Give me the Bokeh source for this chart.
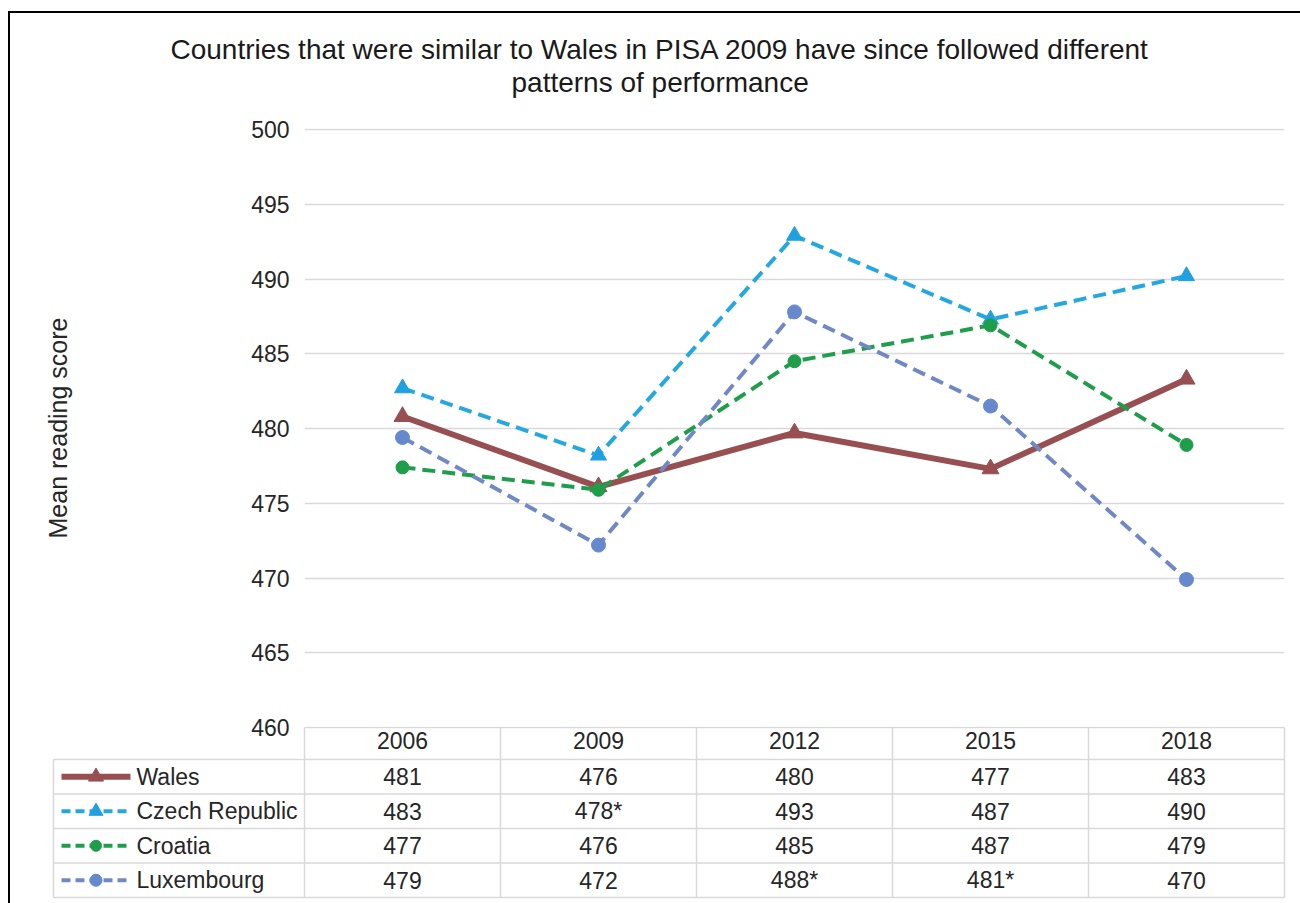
from bokeh.plotting import figure
from bokeh.models import Range1d, FixedTicker, Title
from bokeh.layouts import column
from bokeh.embed import file_html
from bokeh.resources import INLINE
from bokeh.core.properties import value

# ---------------- data ----------------
title_lines = ["Countries that were similar to Wales in PISA 2009 have since followed different",
               "patterns of performance"]
y_label = "Mean reading score"
years = ["2006", "2009", "2012", "2015", "2018"]
countries = ["Wales", "Czech Republic", "Croatia", "Luxembourg"]
wales = [480.8, 476.1, 479.7, 477.3, 483.3]
czech = [482.7, 478.2, 492.9, 487.3, 490.2]
croatia = [477.4, 475.9, 484.5, 486.9, 478.9]
luxembourg = [479.4, 472.2, 487.8, 481.5, 469.9]
wales_table = ["481", "476", "480", "477", "483"]
czech_table = ["483", "478*", "493", "487", "490"]
croatia_table = ["477", "476", "485", "487", "479"]
luxembourg_table = ["479", "472", "488*", "481*", "470"]
y_ticks = [460, 465, 470, 475, 480, 485, 490, 495, 500]

series = [wales, czech, croatia, luxembourg]
tables = [wales_table, czech_table, croatia_table, luxembourg_table]

# ---------------- styles ----------------
FONT = "Liberation Sans"
TXT = "#262626"
GRID = "#D9D9D9"
styles = [
    dict(color="#974F52", dash="solid", width=6, marker="triangle", msize=17, mcolor="#974F52"),
    dict(color="#25A8E0", dash="13 7", width=4, marker="triangle", msize=16, mcolor="#1FA0E0"),
    dict(color="#1E9E4A", dash="13 7", width=4, marker="circle", msize=13, mcolor="#1E9E4A"),
    dict(color="#7089C6", dash="13 7", width=4, marker="circle", msize=14, mcolor="#6688CC"),
]

n = len(years)
xs = list(range(n))
cell_px = 196.0

# ---------------- chart ----------------
p = figure(frame_width=980, frame_height=599, min_border_left=294, min_border_right=16,
           min_border_top=115, min_border_bottom=32,
           x_range=Range1d(-0.5, n - 0.5),
           y_range=Range1d(y_ticks[0], y_ticks[-1] + 1 / 14.95),
           toolbar_location=None, output_backend="svg",
           background_fill_color="white", border_fill_color="white")
p.frame_align = False
p.outline_line_color = None
p.xgrid.visible = False
p.ygrid.grid_line_color = GRID
p.ygrid.grid_line_width = 1.5
p.ygrid.ticker = FixedTicker(ticks=y_ticks)

p.yaxis.ticker = FixedTicker(ticks=y_ticks)
p.yaxis.axis_line_color = None
p.yaxis.major_tick_line_color = None
p.yaxis.minor_tick_line_color = None
p.yaxis.major_tick_out = 0
p.yaxis.minor_tick_out = 0
p.yaxis.major_label_standoff = 15
p.yaxis.major_label_text_font = FONT
p.yaxis.major_label_text_font_size = "23px"
p.yaxis.major_label_text_color = TXT
p.yaxis.axis_label = y_label
p.yaxis.axis_label_text_font = FONT
p.yaxis.axis_label_text_font_size = "25px"
p.yaxis.axis_label_text_font_style = "normal"
p.yaxis.axis_label_text_color = TXT
p.yaxis.axis_label_standoff = 176

p.xaxis.ticker = FixedTicker(ticks=xs)
p.xaxis.major_label_overrides = {i: y for i, y in enumerate(years)}
p.xaxis.axis_line_color = None
p.xaxis.major_tick_line_color = None
p.xaxis.minor_tick_line_color = None
p.xaxis.major_tick_out = 0
p.xaxis.minor_tick_out = 0
p.xaxis.major_label_standoff = 4
p.xaxis.major_label_text_font = FONT
p.xaxis.major_label_text_font_size = "23px"
p.xaxis.major_label_text_color = TXT

for vals, st in zip(series, styles):
    p.line(xs, vals, line_color=st["color"], line_width=st["width"], line_dash=st["dash"])
    p.scatter(xs, vals, marker=st["marker"], size=st["msize"], fill_color=st["mcolor"],
              line_color=st["mcolor"])

# two-line title, each line centred at page x = 660 (frame left = 304)
title_kw = dict(text_font=FONT, text_font_size="28px", text_font_style="normal",
                text_color="#1A1A1A")
p.title.text = title_lines[0]
p.title.align = "left"
p.title.offset = -134
p.title.standoff = 0
for k, v in title_kw.items():
    setattr(p.title, k, v)
# spacer band between the title and the plot area (closest to the frame)
p.add_layout(Title(text=" ", align="left", standoff=-2, **title_kw), "above")
p.add_layout(Title(text=title_lines[1], align="left", offset=207, standoff=0, **title_kw), "above")

# ---------------- table (overlaps the chart's x-axis band) ----------------
row_px = 34.5
head_px = 32.0
leg_w = 251 / cell_px
x_left = -0.5 - leg_w
nr = len(countries)
y_head = -head_px / row_px
t = figure(frame_width=1235, frame_height=173, min_border_left=41, min_border_right=14,
           min_border_top=0, min_border_bottom=4,
           x_range=Range1d(x_left - 2 / cell_px, n - 0.5 + 2 / cell_px),
           y_range=Range1d(nr + 2 / row_px, y_head - 1 / row_px),
           x_axis_location=None, y_axis_location=None,
           toolbar_location=None, output_backend="svg",
           background_fill_color=None, border_fill_color=None,
           styles={"margin-top": "-33px"})
t.frame_align = False
t.outline_line_color = None
t.grid.visible = False

# horizontal rules
hx = [[-0.5, n - 0.5]] + [[x_left, n - 0.5] for _ in range(nr + 1)]
hy = [[y_head, y_head]] + [[r, r] for r in range(nr + 1)]
t.multi_line(hx, hy, line_color=GRID, line_width=1.5)
# vertical rules
vx = [[x_left, x_left]] + [[i - 0.5, i - 0.5] for i in range(n + 1)]
vy = [[0, nr]] + [[y_head, nr] for _ in range(n + 1)]
t.multi_line(vx, vy, line_color=GRID, line_width=1.5)

cx, cy, ct = [], [], []
for r, row in enumerate(tables):
    for c, s in enumerate(row):
        cx.append(c)
        cy.append(r + 0.5)
        ct.append(s)
t.text(cx, cy, text=ct, text_align="center", text_baseline="middle",
       text_font=value(FONT), text_font_size="23px", text_color=TXT)

for r, (name, st) in enumerate(zip(countries, styles)):
    yc = r + 0.5
    x0 = x_left + 8 / cell_px
    x1 = x_left + 77 / cell_px
    dash = "solid" if st["dash"] == "solid" else "9 5"
    t.line([x0, x1], [yc, yc], line_color=st["color"], line_width=st["width"], line_dash=dash)
    t.scatter([(x0 + x1) / 2], [yc], marker=st["marker"], size=st["msize"] - 2,
              fill_color=st["mcolor"], line_color=st["mcolor"])
    t.text([x_left + 83 / cell_px], [yc], text=[name], text_align="left", text_baseline="middle",
           text_font=value(FONT), text_font_size="23px", text_color=TXT)

layout = column(p, t, styles={"margin-left": "8px", "margin-top": "11px",
                              "border-left": "2px solid #000", "border-top": "2px solid #000"})

open("out.html", "w").write(file_html(layout, INLINE))
